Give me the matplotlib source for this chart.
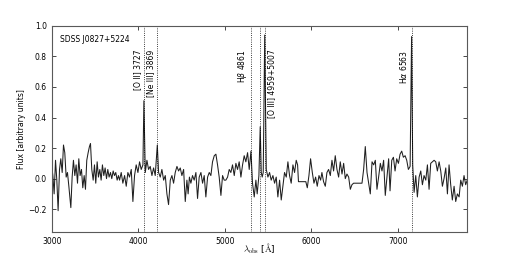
import matplotlib
matplotlib.use("Agg")
import matplotlib.pyplot as plt
import numpy as np

wave = [3000, 3012, 3027, 3043, 3058, 3073, 3089, 3104, 3120, 3135, 3150, 3166, 3181, 3197,
        3220, 3235, 3250, 3266, 3281, 3297, 3312, 3327, 3343, 3358, 3374, 3389, 3404, 3420,
        3435, 3447, 3462, 3478, 3493, 3508, 3524, 3539, 3555, 3570, 3585, 3601, 3616, 3632,
        3647, 3662, 3678, 3693, 3709, 3724, 3739, 3755, 3770, 3783, 3802, 3821, 3841, 3860,
        3879, 3898, 3918, 3937, 3956, 3975, 3995, 4014, 4033, 4053, 4064, 4080, 4099, 4118,
        4137, 4157, 4176, 4195, 4219, 4234, 4253, 4272, 4292, 4311, 4330, 4349, 4369, 4388,
        4407, 4426, 4446, 4465, 4484, 4503, 4523, 4542, 4561, 4575, 4590, 4607, 4626, 4645,
        4665, 4684, 4703, 4723, 4742, 4761, 4780, 4800, 4819, 4838, 4857, 4877, 4896, 4915,
        4934, 4954, 4973, 4992, 5011, 5031, 5050, 5069, 5088, 5108, 5127, 5146, 5165, 5185,
        5204, 5223, 5242, 5262, 5281, 5301, 5319, 5339, 5358, 5373, 5393, 5408, 5420, 5431,
        5443, 5460, 5478, 5497, 5516, 5535, 5555, 5574, 5593, 5612, 5632, 5651, 5670, 5689,
        5709, 5728, 5747, 5766, 5786, 5805, 5824, 5840, 5850, 5935, 5952, 5971, 5990, 6010,
        6029, 6048, 6067, 6087, 6106, 6121, 6140, 6160, 6179, 6198, 6218, 6237, 6256, 6275,
        6295, 6314, 6333, 6353, 6372, 6391, 6410, 6430, 6449, 6468, 6487, 6584, 6603, 6622,
        6642, 6661, 6680, 6700, 6719, 6738, 6757, 6776, 6796, 6815, 6834, 6853, 6873, 6892,
        6908, 6928, 6947, 6966, 6985, 7005, 7024, 7043, 7062, 7082, 7101, 7120, 7140, 7157,
        7170, 7186, 7205, 7224, 7244, 7263, 7282, 7301, 7321, 7340, 7359, 7378, 7398, 7417,
        7436, 7455, 7475, 7494, 7513, 7532, 7552, 7571, 7590, 7609, 7628, 7648, 7667, 7686,
        7706, 7725, 7744, 7763, 7782, 7800]
flux = [0.08, 0.02, -0.10, 0.12, -0.01, -0.21, 0.06, 0.13, 0.04, 0.22, 0.17, 0.01, 0.04, -0.05,
        -0.19, 0.01, 0.12, 0.02, 0.09, -0.03, 0.13, 0.02, 0.06, -0.06, 0.02, -0.07, 0.12, 0.17,
        0.21, 0.23, 0.06, -0.01, 0.09, -0.03, 0.11, 0.01, 0.06, -0.01, 0.09, 0.02, 0.07, 0.00,
        0.06, 0.01, 0.04, 0.00, 0.05, 0.02, 0.04, -0.01, 0.02, -0.01, 0.04, -0.03, 0.02, -0.05,
        0.04, 0.01, 0.06, -0.15, 0.02, 0.09, 0.04, 0.11, 0.06, 0.09, 0.51, 0.04, 0.12, 0.06,
        0.08, 0.02, 0.07, 0.02, 0.22, 0.04, 0.01, 0.06, -0.01, 0.02, -0.10, -0.17, -0.01, 0.02,
        -0.03, 0.04, 0.08, 0.05, 0.07, 0.02, 0.06, -0.15, -0.01, -0.10, 0.01, -0.03, 0.02, -0.01,
        0.04, -0.13, 0.01, 0.04, -0.03, 0.02, -0.12, 0.01, 0.04, 0.02, 0.11, 0.15, 0.16, 0.09,
        0.01, -0.11, 0.02, -0.01, -0.01, 0.01, 0.06, 0.04, 0.09, 0.02, 0.10, 0.06, 0.11, 0.01,
        0.09, 0.15, 0.11, 0.17, 0.06, 0.18, -0.03, -0.12, -0.01, -0.10, 0.02, 0.34, 0.04, 0.01,
        0.04, 0.94, 0.06, 0.01, 0.04, -0.01, 0.02, -0.03, 0.01, -0.12, -0.01, -0.14, -0.05, 0.04,
        0.01, 0.11, 0.02, -0.03, 0.09, 0.04, 0.12, 0.09, -0.02, -0.02, -0.06, 0.02, 0.13, 0.04,
        -0.03, 0.01, -0.05, 0.02, -0.01, 0.04, -0.02, -0.05, 0.04, 0.06, 0.02, 0.12, 0.05, 0.15,
        0.06, 0.01, 0.11, 0.03, 0.10, 0.00, 0.03, 0.01, -0.07, -0.04, -0.03, -0.03, 0.06, 0.21,
        0.04, -0.03, -0.10, 0.11, 0.09, 0.12, -0.07, 0.01, 0.10, 0.05, 0.12, -0.11, 0.01, 0.13,
        -0.08, 0.12, 0.14, 0.05, 0.13, 0.10, 0.16, 0.18, 0.14, 0.15, 0.12, 0.06, 0.08, 0.93,
        0.09, -0.09, 0.02, -0.12, 0.01, 0.05, -0.04, 0.02, -0.01, 0.09, -0.07, 0.10, 0.11, 0.12,
        0.11, 0.05, 0.11, 0.05, -0.05, 0.00, 0.07, -0.10, 0.09, -0.04, -0.14, -0.05, -0.15, -0.10,
        -0.12, -0.01, -0.05, 0.02, -0.04, -0.01]

z = 0.0905
line_rest = [3727, 3869, 4861, 4959, 5007, 6563]
labels = [r'[O II] 3727', r'[Ne III] 3869', r'H$\beta$ 4861', None, r'[O III] 4959+5007', r'H$\alpha$ 6563']
label_side = ['left', 'left', 'left', None, 'right', 'left']

fs = 5.5
fig = plt.figure(figsize=(5.18, 2.59), dpi=100)
ax = fig.add_axes([0.100, 0.104, 0.802, 0.796])

ax.plot(wave, flux, color='0.12', lw=0.75)

for rest, lab, side in zip(line_rest, labels, label_side):
    obs = rest * (1 + z)
    ax.axvline(obs, color='k', ls=':', lw=0.6)
    if lab is None:
        continue
    if side == 'left':
        ax.text(obs - 25, 0.845, lab, rotation=90, ha='right', va='top', fontsize=fs)
    else:
        ax.text(obs + 25, 0.845, lab, rotation=90, ha='left', va='top', fontsize=fs)

ax.text(0.02, 0.935, 'SDSS J0827+5224', transform=ax.transAxes, fontsize=fs, va='center')

ax.set_xlim(3000, 7800)
ax.set_ylim(-0.35, 1.0)
ax.set_xticks([3000, 4000, 5000, 6000, 7000])
ax.set_yticks([-0.2, 0.0, 0.2, 0.4, 0.6, 0.8, 1.0])
ax.tick_params(direction='in', top=True, right=True, labelsize=fs, length=3, width=0.5)
for s in ax.spines.values():
    s.set_linewidth(0.8)
    s.set_color('0.35')

ax.set_xlabel(r'$\lambda_{\rm obs}$ [$\mathrm{\AA}$]', fontsize=6.5, math_fontfamily='cm')
ax.xaxis.set_label_coords(0.5, -0.045)
ax.set_ylabel('Flux [arbitrary units]', fontsize=fs, labelpad=2)

fig.savefig('out.png', dpi=100)
